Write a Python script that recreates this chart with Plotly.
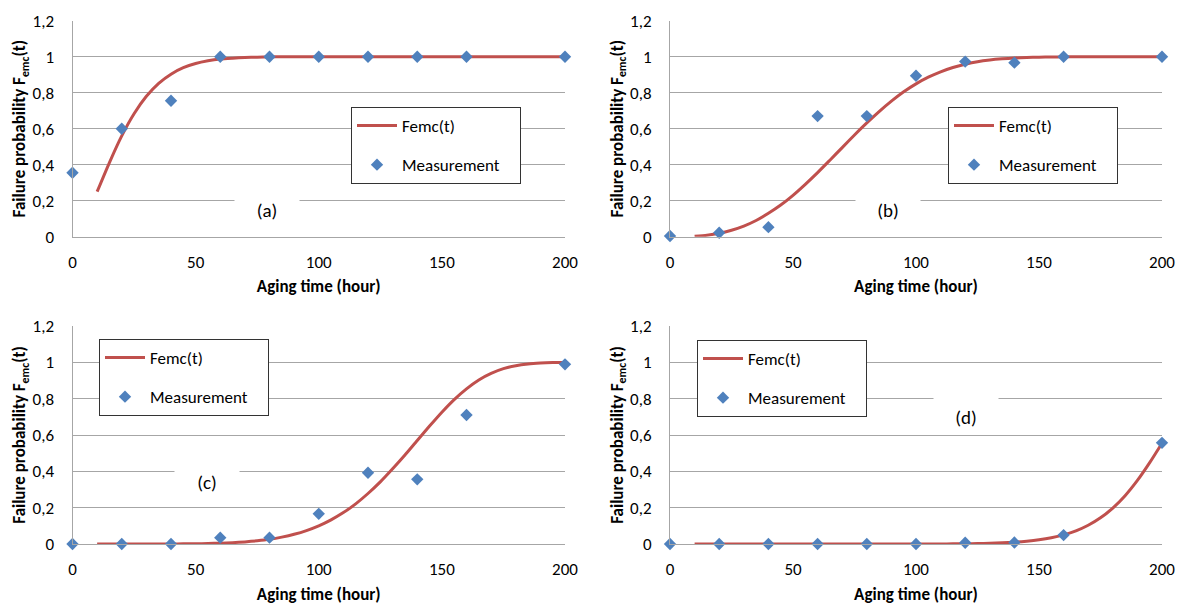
import plotly.graph_objects as go

# ---------------- data ----------------
hours_meas = [0, 20, 40, 60, 80, 100, 120, 140, 160, 200]
meas_a = [0.355, 0.60, 0.755, 1.0, 1.0, 1.0, 1.0, 1.0, 1.0, 1.0]
meas_b = [0.004, 0.022, 0.053, 0.67, 0.67, 0.894, 0.973, 0.967, 1.0, 1.0]
meas_c = [0.0, 0.0, 0.0, 0.035, 0.035, 0.166, 0.392, 0.356, 0.71, 0.989]
meas_d = [0.0, 0.0, 0.0, 0.0, 0.0, 0.0, 0.007, 0.008, 0.049, 0.557]

hours_curve = [10, 15, 20, 25, 30, 35, 40, 45, 50, 55, 60, 65, 70, 75, 80, 85, 90, 95,
               100, 105, 110, 115, 120, 125, 130, 135, 140, 145, 150, 155, 160, 165,
               170, 175, 180, 185, 190, 195, 200]
femc_a = [0.25, 0.412, 0.56, 0.683, 0.78, 0.852, 0.903, 0.939, 0.962, 0.977, 0.987, 0.992,
          0.9957, 0.9976, 0.9987, 0.9994, 0.9997, 1.0, 1.0, 1.0, 1.0, 1.0, 1.0, 1.0, 1.0,
          1.0, 1.0, 1.0, 1.0, 1.0, 1.0, 1.0, 1.0, 1.0, 1.0, 1.0, 1.0, 1.0, 1.0]
femc_b = [0.003, 0.0085, 0.019, 0.036, 0.059, 0.090, 0.13, 0.176, 0.23, 0.291, 0.356, 0.425,
          0.495, 0.565, 0.632, 0.695, 0.753, 0.805, 0.849, 0.886, 0.916, 0.94, 0.958, 0.972,
          0.9815, 0.988, 0.9928, 0.9957, 0.9975, 0.9986, 0.9993, 0.9996, 1.0, 1.0, 1.0, 1.0,
          1.0, 1.0, 1.0]
femc_c = [0.0, 0.0, 0.0, 0.0, 0.0, 0.0, 0.0004, 0.0007, 0.0015, 0.0026, 0.0045, 0.0074,
          0.0116, 0.0178, 0.026, 0.038, 0.0535, 0.074, 0.100, 0.133, 0.173, 0.221, 0.278,
          0.342, 0.414, 0.49, 0.57, 0.649, 0.7255, 0.795, 0.854, 0.903, 0.939, 0.965, 0.9815,
          0.991, 0.996, 0.9986, 0.9995]
femc_d = [0.0, 0.0, 0.0, 0.0, 0.0, 0.0, 0.0, 0.0, 0.0, 0.0, 0.0, 0.0, 0.0, 0.0, 0.0, 0.0,
          0.0001, 0.0002, 0.0003, 0.0004, 0.0005, 0.0009, 0.0015, 0.0024, 0.0039, 0.0063,
          0.0098, 0.0152, 0.0229, 0.034, 0.050, 0.072, 0.103, 0.144, 0.198, 0.266, 0.35,
          0.448, 0.555]

panel_labels = ["(a)", "(b)", "(c)", "(d)"]
y_ticks = [0, 0.2, 0.4, 0.6, 0.8, 1.0, 1.2]
x_ticks = [0, 50, 100, 150, 200]

# ---------------- styling ----------------
W, H = 1184, 606
FONT = "Calibri, Carlito, Lato, sans-serif"
RED = "#C0504D"
BLUE = "#4F81BD"
GRID = "#A6A6A6"

def fx(p):
    return p / W

def fy(p):
    return 1 - p / H

# plot areas in pixels: (left, right, top, bottom)
areas = [(72.5, 565, 20.7, 236.7), (670, 1162, 20.7, 236.7),
         (72.5, 565, 326, 544), (670, 1162, 326, 544)]
# legend top-left corners in pixels
legend_pos = [(351, 107), (948, 107), (99, 339), (697, 340)]
# label centers (data coords), box sizes
label_pos = [(79, 0.155, 64, 26), (88.6, 0.155, 64, 26), (54.6, 0.35, 64, 28), (120.3, 0.725, 64, 34)]

curves = [femc_a, femc_b, femc_c, femc_d]
meas = [meas_a, meas_b, meas_c, meas_d]

fig = go.Figure()
layout = dict(
    width=W, height=H, margin=dict(l=0, r=0, t=0, b=0, autoexpand=False),
    paper_bgcolor="white", plot_bgcolor="white",
    separators=", ", showlegend=True,
    font=dict(family=FONT, size=17, color="black"),
    annotations=[],
)

PAD = "\u00a0" * 4

for i in range(4):
    n = "" if i == 0 else str(i + 1)
    leg = "legend" if i == 0 else "legend" + str(i + 1)
    fig.add_trace(go.Scatter(
        x=hours_curve, y=curves[i], mode="lines", name="Femc(t)",
        line=dict(color=RED, width=3, shape="spline", smoothing=0.6),
        xaxis="x" + n, yaxis="y" + n, legend=leg, legendgroup="c" + n,
        cliponaxis=False, hoverinfo="skip"))
    fig.add_trace(go.Scatter(
        x=hours_meas, y=meas[i], mode="markers", name="Measurement" + PAD,
        marker=dict(symbol="diamond", color=BLUE, size=9.5, line=dict(width=0)),
        xaxis="x" + n, yaxis="y" + n, legend=leg, legendgroup="m" + n,
        cliponaxis=False))

    l, r, t, b = areas[i]
    layout["xaxis" + n] = dict(
        domain=[fx(l), fx(r)], anchor="y" + n, range=[0, 200], automargin=False,
        tickvals=x_ticks, showgrid=False, zeroline=False,
        showline=True, linecolor=GRID, linewidth=1, ticks="",
        ticklabelstandoff=10, tickfont=dict(size=17, family=FONT),
        title=dict(text="Aging time (hour)", standoff=8,
                   font=dict(size=17, family=FONT, weight="bold")),
    )
    layout["yaxis" + n] = dict(
        domain=[fy(b), fy(t)], anchor="x" + n, range=[0, 1.2], automargin=False,
        tickvals=y_ticks, tickformat="~g", showgrid=True, gridcolor=GRID, gridwidth=1,
        zeroline=False, showline=True, linecolor=GRID, linewidth=1, ticks="",
        ticklabelstandoff=14, tickfont=dict(size=17, family=FONT),
        title=dict(text="Failure probability F<sub>emc</sub>(t)", standoff=2,
                   font=dict(size=17, family=FONT, weight="bold")),
    )
    lx, ly = legend_pos[i]
    layout[leg] = dict(
        x=fx(lx), y=fy(ly), xanchor="left", yanchor="top",
        bgcolor="white", bordercolor="#333333", borderwidth=1,
        font=dict(size=17, family=FONT), tracegroupgap=14, itemwidth=40,
        traceorder="grouped",
    )
    ax, ay, bw, bh = label_pos[i]
    layout["annotations"].append(dict(
        x=ax, y=ay, xref="x" + n, yref="y" + n, text=panel_labels[i],
        showarrow=False, bgcolor="white", width=bw, height=bh, borderpad=0,
        valign="bottom", font=dict(size=19, family=FONT)))

fig.update_layout(**layout)
fig.write_html("out.html", config={"displayModeBar": False},
               post_script="document.body.style.margin='0';document.body.style.overflow='hidden';")
